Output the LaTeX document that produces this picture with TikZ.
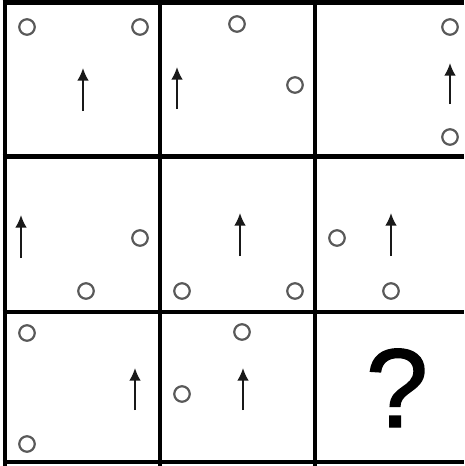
\documentclass[tikz,border=0pt]{standalone}
\usepackage{fontspec}
\setmainfont{Liberation Sans}
\newfontfamily\qfont{Liberation Sans}[FakeBold=1.3]
\usetikzlibrary{arrows.meta}
\tikzset{
  ring/.style={circle, draw=black!65, line width=2.2pt, minimum size=15.5pt, inner sep=0pt},
  uparrow/.style={line width=2pt, draw=black!90, -{Latex[length=12.5pt,width=11.5pt]}},
  gridline/.style={line width=4.8pt}
}
\begin{document}
\begin{tikzpicture}[x=1pt,y=-1pt]
        \useasboundingbox (0,0) rectangle (464,466);
        %Grid
        \draw[gridline] (5,0) -- (5,466);
        \draw[gridline] (160,0) -- (160,466);
        \draw[gridline] (315,0) -- (315,466);
        \draw[gridline] (2.6,2.5) -- (464,2.5);
        \draw[gridline] (2.6,156.5) -- (464,156.5);
        \draw[gridline] (2.6,312) -- (464,312);
        \draw[gridline] (2.6,462) -- (464,462);
        %Row 1
        \node[ring] (ra) at (27,27) {};
        \node[ring] (rb) at (140,27) {};
        \draw[uparrow] (83,111) -- (83,68);
        \node[ring] (rc) at (237,24) {};
        \node[ring] (rd) at (295,85) {};
        \draw[uparrow] (177,109) -- (177,67);
        \node[ring] (re) at (450,27) {};
        \node[ring] (rf) at (450,137) {};
        \draw[uparrow] (450,104) -- (450,63);
        %Row 2
        \node[ring] (rg) at (140,238) {};
        \node[ring] (rh) at (86,291) {};
        \draw[uparrow] (21,258) -- (21,215);
        \node[ring] (ri) at (182,291) {};
        \node[ring] (rj) at (295,291) {};
        \draw[uparrow] (240,256) -- (240,213);
        \node[ring] (rk) at (337,238) {};
        \node[ring] (rl) at (391,291) {};
        \draw[uparrow] (391,256) -- (391,213);
        %Row 3
        \node[ring] (rm) at (27,333) {};
        \node[ring] (rn) at (27,444) {};
        \draw[uparrow] (135,410) -- (135,368);
        \node[ring] (ro) at (182,394) {};
        \node[ring] (rp) at (242,332) {};
        \draw[uparrow] (243,410) -- (243,368);
        %Unknown
        \node[inner sep=0pt, anchor=base, font=\qfont\fontsize{112}{112}\selectfont] (query) at (397,427) {?};
\end{tikzpicture}
\end{document}
